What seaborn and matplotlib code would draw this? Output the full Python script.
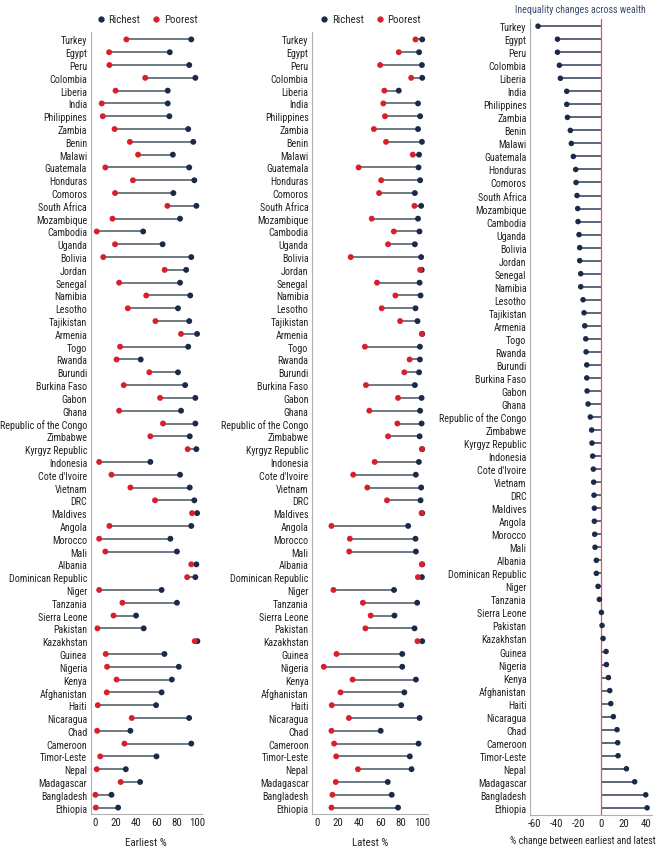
import matplotlib
matplotlib.use("Agg")
import os
import matplotlib.pyplot as plt
from matplotlib import font_manager
from matplotlib.lines import Line2D
import seaborn as sns
import pandas as pd
import numpy as np

countries = ["Turkey", "Egypt", "Peru", "Colombia", "Liberia", "India", "Philippines", "Zambia",
             "Benin", "Malawi", "Guatemala", "Honduras", "Comoros", "South Africa", "Mozambique",
             "Cambodia", "Uganda", "Bolivia", "Jordan", "Senegal", "Namibia", "Lesotho", "Tajikistan",
             "Armenia", "Togo", "Rwanda", "Burundi", "Burkina Faso", "Gabon", "Ghana",
             "Republic of the Congo", "Zimbabwe", "Kyrgyz Republic", "Indonesia", "Cote d'Ivoire",
             "Vietnam", "DRC", "Maldives", "Angola", "Morocco", "Mali", "Albania",
             "Dominican Republic", "Niger", "Tanzania", "Sierra Leone", "Pakistan", "Kazakhstan",
             "Guinea", "Nigeria", "Kenya", "Afghanistan", "Haiti", "Nicaragua", "Chad", "Cameroon",
             "Timor-Leste", "Nepal", "Madagascar", "Bangladesh", "Ethiopia"]

earliest_richest = [94, 73, 92, 98, 71, 71, 72.6, 91, 96, 76, 92, 97, 76.5, 99, 83, 47, 66, 94, 89,
                    83, 93, 81, 92, 99.7, 91, 44.6, 81, 88, 98, 84, 98, 92.5, 99, 54, 83, 92.5, 97,
                    99.7, 94, 73.6, 80, 99, 98, 65, 80, 40, 47.5, 100, 67.8, 81.8, 75, 65, 59.6, 91.9,
                    34.5, 94, 60, 30, 44, 16, 22.5]
earliest_poorest = [30.6, 13.7, 14, 49, 20, 6.5, 7.5, 19, 34, 42, 10, 37, 19.5, 70.7, 17, 1.6, 19.5, 8,
                    68, 23.5, 50, 32, 59, 84, 24.4, 21, 53, 28, 63.5, 23.5, 66.4, 54, 90.5, 4, 16,
                    34.5, 58.6, 94.8, 14, 4, 10, 94, 90, 4, 26.7, 18, 2.3, 97.4, 10.4, 11.7, 21, 11.4,
                    2.6, 35.8, 2, 28.7, 5, 1.6, 25, 0.3, 0.7]
latest_richest = [100, 97, 99.7, 100, 77.7, 96, 98, 96, 99.7, 97, 96.5, 98, 93, 99, 96, 97.4, 93, 99,
                  99.5, 97.5, 98.4, 93.6, 95.5, 100, 97.8, 97.8, 97, 93, 99.4, 98, 99.4, 97.5, 100,
                  96.8, 93.9, 99, 98.4, 100, 86.6, 93.6, 94, 100, 99.7, 73.2, 95.2, 73.6, 92.7, 100,
                  81, 81, 94, 83, 80, 97.5, 60.5, 96.5, 88.2, 89.8, 67.2, 71, 77]
latest_poorest = [93.6, 77.7, 60, 89.5, 64, 63, 64.6, 54, 65.6, 91, 39.5, 61, 59, 92.6, 52, 73, 67.5,
                  32, 98, 57, 74.5, 61.5, 79, 99.7, 45.5, 88, 83, 46.5, 77, 49.7, 76.4, 67.5, 99.7,
                  54.8, 34.4, 47.8, 66.5, 99.4, 13.7, 31.2, 30.6, 99.7, 95.9, 15.6, 43.6, 51, 46, 95.5,
                  18.5, 6.4, 33.8, 22.3, 14, 30.3, 13.7, 16.2, 18.2, 38.9, 17.8, 14.6, 13.7]
pct_change = [-56.4, -39, -39, -37.3, -36.4, -30.7, -30.7, -30.1, -27.5, -26.6, -24.8, -22.7, -22.4,
              -21.5, -20.9, -20.6, -19.7, -19.1, -19.1, -18.2, -18.2, -16.1, -15.2, -14.6, -13.7,
              -13.4, -12.8, -12.8, -12.5, -11.6, -9.6, -8.4, -8.1, -7.5, -6.9, -6.6, -6.3, -6.0,
              -6.0, -5.7, -5.4, -4.2, -4.2, -2.7, -1.5, 0.3, 0.9, 1.8, 4.5, 4.8, 6.6, 7.8, 8.7, 11,
              14.3, 14.9, 15.2, 22.7, 30.1, 40, 41.2]

pct_ticks = [-60, -40, -20, 0, 20, 40]
share_ticks = [0, 20, 40, 60, 80, 100]

sns.set_theme(style="white")

# look for a narrow / condensed sans face
narrow_family = None
prefs = ["liberationsansnarrow-regular", "arialnarrow", "robotocondensed-regular",
         "dejavusanscondensed.", "notosans-condensed.", "notosans-condensedregular",
         "opensans-condensedregular", "opensans_condensed-regular", "opensanscondensed-regular"]
try:
    files = font_manager.findSystemFonts()
    lowmap = {os.path.basename(f).lower(): f for f in files}
    chosen = None
    for p in prefs:
        for k, f in lowmap.items():
            if k.startswith(p) or (p in k and "bold" not in k and "italic" not in k
                                   and "oblique" not in k and "light" not in k):
                chosen = f
                break
        if chosen:
            break
    if chosen:
        font_manager.fontManager.addfont(chosen)
        narrow_family = font_manager.FontProperties(fname=chosen).get_name()
except Exception:
    narrow_family = None

if narrow_family:
    plt.rcParams["font.family"] = [narrow_family, "DejaVu Sans"]
    LBL = 7.2
    TCK = 7.8
    TTL = 7.2
else:
    plt.rcParams["font.family"] = ["Liberation Sans", "DejaVu Sans"]
    LBL = 6.4
    TCK = 7.2
    TTL = 6.4
plt.rcParams["axes.unicode_minus"] = False

RICH = "#1c2a4a"
POOR = "#d91f2a"
LINE = "#56636e"
TXT = "#222222"
SPINE = "#b0b0b0"

W, H = 660, 853
fig = plt.figure(figsize=(W / 100, H / 100), dpi=100)


def fax(x0, y0, x1, y1):
    return fig.add_axes([x0 / W, 1 - y1 / H, (x1 - x0) / W, (y1 - y0) / H])


n = len(countries)
pos = np.arange(n)


def style(ax):
    ax.tick_params(axis="both", length=0, pad=2.5)
    for s in ["top", "right"]:
        ax.spines[s].set_visible(False)
    for s in ["left", "bottom"]:
        ax.spines[s].set_color(SPINE)
        ax.spines[s].set_linewidth(0.8)


def dumbbell(ax, rich, poor, xlabel, xlim):
    df = pd.DataFrame({"country": countries, "pos": pos, "Richest": rich, "Poorest": poor})
    ax.hlines(df["pos"], df["Poorest"], df["Richest"], color=LINE, lw=1.2, zorder=1)
    sns.scatterplot(data=df, x="Richest", y="pos", color=RICH, s=18, edgecolor="none",
                    ax=ax, zorder=3, legend=False)
    sns.scatterplot(data=df, x="Poorest", y="pos", color=POOR, s=18, edgecolor="none",
                    ax=ax, zorder=4, legend=False)
    ax.set_xlim(*xlim)
    ax.set_ylim(n - 0.5, -0.58)
    ax.set_yticks(pos)
    ax.set_yticklabels(countries, fontsize=LBL, color=TXT)
    ax.set_xticks(share_ticks)
    ax.set_xticklabels([str(t) for t in share_ticks], fontsize=TCK, color=TXT)
    ax.set_xlabel(xlabel, fontsize=TCK, color=TXT, labelpad=7)
    ax.set_ylabel("")
    style(ax)
    handles = [Line2D([], [], ls="none", marker="o", ms=3.5, color=RICH, label="Richest"),
               Line2D([], [], ls="none", marker="o", ms=3.5, color=POOR, label="Poorest")]
    ax.legend(handles=handles, ncol=2, frameon=False, loc="lower center",
              bbox_to_anchor=(0.5, 1.0), fontsize=TCK, handletextpad=0.2,
              columnspacing=1.0, handlelength=1.0, borderaxespad=0.3)


ax1 = fax(90.7, 33, 202, 815)
dumbbell(ax1, earliest_richest, earliest_poorest, "Earliest %", (-4.3, 104.5))

ax2 = fax(312, 33, 428, 815)
dumbbell(ax2, latest_richest, latest_poorest, "Latest %", (-4.8, 105.5))

ax3 = fax(530, 20, 652, 816)
dfc = pd.DataFrame({"country": countries, "pos": pos, "change": pct_change})
ax3.hlines(dfc["pos"], 0, dfc["change"], color="#2f3f55", lw=1.1, zorder=1)
sns.scatterplot(data=dfc, x="change", y="pos", color=RICH, s=16, edgecolor="none",
                ax=ax3, zorder=3, legend=False)
ax3.axvline(0, color="#e0506e", lw=0.9, zorder=2)
ax3.set_xlim(-63.6, 45.6)
ax3.set_ylim(n - 0.45, -0.55)
ax3.set_yticks(pos)
ax3.set_yticklabels(countries, fontsize=LBL, color=TXT)
ax3.set_xticks(pct_ticks)
ax3.set_xticklabels([str(t) for t in pct_ticks], fontsize=TCK, color=TXT)
ax3.set_xlabel("")
ax3.set_ylabel("")
style(ax3)
fig.text(583 / W, 1 - 841 / H, "% change between earliest and latest", fontsize=TTL,
         color=TXT, ha="center", va="center")
fig.text(580 / W, 1 - 10 / H, "Inequality changes across wealth", fontsize=TTL,
         color="#3b4a6e", ha="center", va="center")

fig.savefig("out.png", dpi=100)
